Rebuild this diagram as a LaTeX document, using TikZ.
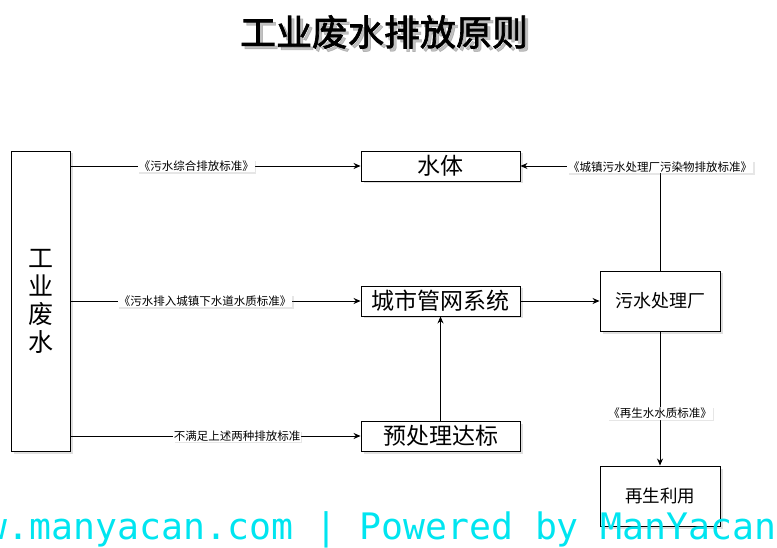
\documentclass[tikz,border=0pt]{standalone}
\usepackage{fontspec}
\newfontfamily\cjk{Noto Sans CJK SC}
\newfontfamily\cjkb{Noto Sans CJK SC}[FakeBold=2]
\newfontfamily\wmono{DejaVu Sans Mono}
\usetikzlibrary{shadows,arrows.meta}
\definecolor{wmcyan}{RGB}{0,229,240}
\tikzset{
  box/.style={draw=black, line width=0.9pt, fill=white, inner sep=0pt,
    drop shadow={opacity=0.25, shadow xshift=2.5pt, shadow yshift=-2.5pt},
    font=\cjk\fontsize{23}{26}\selectfont},
  lbl/.style={fill=white, inner sep=1pt, font=\cjk\fontsize{11.5}{13}\selectfont,
    drop shadow={opacity=0.2, shadow xshift=1.5pt, shadow yshift=-1.5pt}},
  conn/.style={draw=black, line width=0.8pt, -{Stealth[length=7pt,width=6pt]}},
  plain/.style={draw=black, line width=0.8pt}
}
\begin{document}
\begin{tikzpicture}[x=1pt,y=-1pt]
\useasboundingbox (0,0) rectangle (777,548);
\clip (0,0) rectangle (777,548);
% title
\node[text=black!40, opacity=0.6, font=\cjkb\fontsize{36}{40}\selectfont] at (387,35) {工业废水排放原则};
\node (title) [font=\cjkb\fontsize{36}{40}\selectfont] at (384,32) {工业废水排放原则};
% boxes
\node (gy) [box, minimum width=59pt, minimum height=300pt, align=center,
  font=\cjk\fontsize{25}{28}\selectfont] at (40.5,301)
  {工\\业\\废\\水};
\node (st) [box, minimum width=159pt, minimum height=30pt] at (440.5,166) {水体};
\node (cs) [box, minimum width=159pt, minimum height=30pt] at (440.5,301) {城市管网系统};
\node (yc) [box, minimum width=159pt, minimum height=30pt] at (440.5,436) {预处理达标};
\node (ws) [box, minimum width=120pt, minimum height=60pt, font=\cjk\fontsize{18}{21}\selectfont] at (660,301) {污水处理厂};
\node (zs) [box, minimum width=120pt, minimum height=60pt, font=\cjk\fontsize{17.5}{20}\selectfont] at (660,496) {再生利用};
% connectors
\coordinate (c1) at (70,166);
\coordinate (c2) at (70,301);
\coordinate (c3) at (70,436);
\draw[conn] (c1) -- node[lbl, pos=0.435] {《污水综合排放标准》} (st.west);
\draw[conn] (c2) -- node[lbl, pos=0.465] {《污水排入城镇下水道水质标准》} (cs.west);
\draw[conn] (c3) -- node[lbl, pos=0.575, inner sep=0.5pt] {不满足上述两种排放标准} (yc.west);
\draw[conn] (yc.north) -- (cs.south);
\draw[conn] (cs.east) -- (ws.west);
\coordinate (corner) at (660,166);
\draw[plain] (ws.north) -- (corner);
\draw[conn] (corner) -- (st.east);
\node (l4) [lbl] at (660,167) {《城镇污水处理厂污染物排放标准》};
\draw[conn] (ws.south) -- node[lbl, pos=0.61] {《再生水水质标准》} (zs.north);
% watermark
\node (wm) [anchor=base east, text=wmcyan, font=\wmono\fontsize{36.5}{40}\selectfont, inner sep=0pt] at (777,539) {www.manyacan.com | Powered by ManYacan};
\end{tikzpicture}
\end{document}
